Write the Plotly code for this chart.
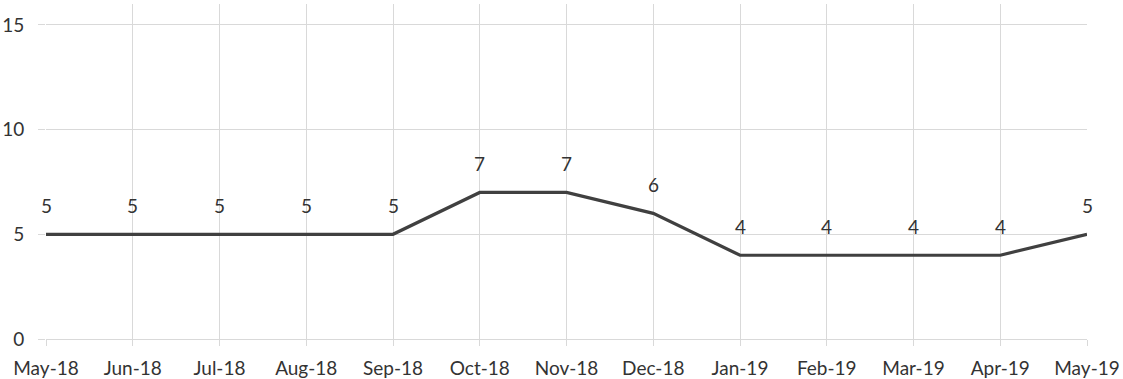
import plotly.graph_objects as go

months = ["May-18", "Jun-18", "Jul-18", "Aug-18", "Sep-18", "Oct-18", "Nov-18",
          "Dec-18", "Jan-19", "Feb-19", "Mar-19", "Apr-19", "May-19"]
values = [5, 5, 5, 5, 5, 7, 7, 6, 4, 4, 4, 4, 5]
y_ticks = [0, 5, 10, 15]

FONT = "Lato, 'Open Sans', sans-serif"
TEXT = "#333333"
GRID = "#d9d9d9"
SIZE = 19

fig = go.Figure()
fig.add_trace(go.Scatter(
    x=months, y=values, mode="lines",
    line=dict(color="#404040", width=3.2),
    hoverinfo="skip", showlegend=False,
))

# value labels sitting just above each point
for m, v in zip(months, values):
    fig.add_annotation(x=m, y=v, text=str(v), showarrow=False,
                       yanchor="bottom", yshift=15,
                       font=dict(family=FONT, size=SIZE, color=TEXT))

fig.update_layout(
    width=1123, height=379,
    margin=dict(l=46, r=36, t=4, b=40, autoexpand=False),
    paper_bgcolor="white", plot_bgcolor="white",
    font=dict(family=FONT, size=SIZE, color=TEXT),
)
fig.update_xaxes(
    type="category", categoryorder="array", categoryarray=months,
    range=[0, len(months) - 1], automargin=False,
    showgrid=True, gridcolor=GRID, gridwidth=1,
    ticks="outside", ticklen=6, tickcolor=GRID, tickwidth=1,
    showline=False, zeroline=False,
    ticklabelstandoff=6,
    tickfont=dict(family=FONT, size=SIZE, color=TEXT),
)
fig.update_yaxes(
    range=[0, 16], tickvals=y_ticks, automargin=False,
    showgrid=True, gridcolor=GRID, gridwidth=1,
    ticks="outside", ticklen=7, tickcolor=GRID, tickwidth=1,
    showline=False, zeroline=True, zerolinecolor=GRID, zerolinewidth=1,
    ticklabelstandoff=10,
    tickfont=dict(family=FONT, size=SIZE, color=TEXT),
)

fig.write_html("out.html")
